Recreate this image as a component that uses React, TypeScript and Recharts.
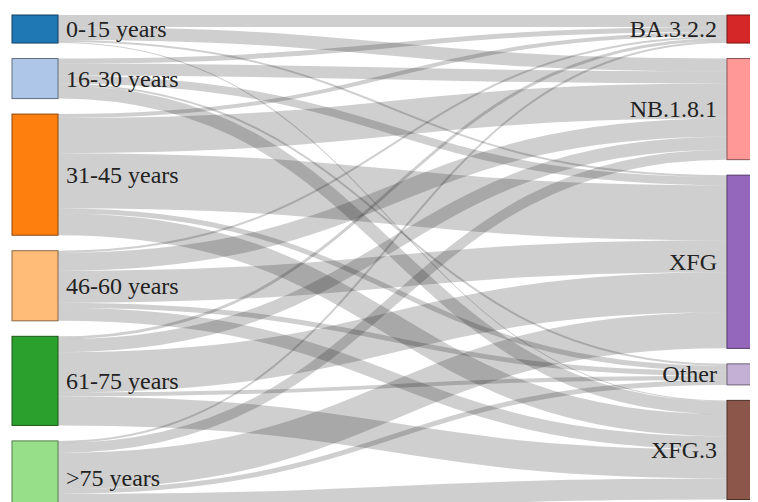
import React from "react";
import { Sankey } from "recharts";

// age groups (left column) and lineages (right column)
const ageGroups = ["0-15 years", "16-30 years", "31-45 years", "46-60 years", "61-75 years", ">75 years"];
const lineages = ["BA.3.2.2", "NB.1.8.1", "XFG", "Other", "XFG.3"];

// sequences per age group, in lineage order (BA.3.2.2, NB.1.8.1, XFG, Other, XFG.3)
const age0to15 = [12, 13, 2, 0, 1];
const age16to30 = [5, 12, 8, 2, 13];
const age31to45 = [4, 35, 55, 5, 22];
const age46to60 = [2, 18, 32, 5, 13];
const age61to75 = [3, 13, 40, 4, 29];
const age75plus = [2, 10, 36, 5, 21];

const flows = [age0to15, age16to30, age31to45, age46to60, age61to75, age75plus];

const ageColors = ["#1f77b4", "#aec7e8", "#ff7f0e", "#ffbb78", "#2ca02c", "#98df8a"];
const lineageColors = ["#d62728", "#ff9896", "#9467bd", "#c5b0d5", "#8c564b"];

const nodeColors = [...ageColors, ...lineageColors];

const data = {
  nodes: [...ageGroups, ...lineages].map((name) => ({ name })),
  links: flows.flatMap((row, s) =>
    row
      .map((value, t) => ({ source: s, target: ageGroups.length + t, value }))
      .filter((l) => l.value > 0)
  ),
};

function darker(hex: string, k = 0.55) {
  const n = parseInt(hex.slice(1), 16);
  const r = Math.round(((n >> 16) & 255) * k);
  const g = Math.round(((n >> 8) & 255) * k);
  const b = Math.round((n & 255) * k);
  return `rgb(${r},${g},${b})`;
}

function SankeyNode(props: any) {
  const { x, y, width, height, index, payload } = props;
  const color = nodeColors[index];
  const isLeft = index < ageGroups.length;
  return (
    <g>
      <rect x={x} y={y} width={width} height={height} fill={color} stroke={darker(color)} strokeWidth={1} />
      <text
        x={isLeft ? x + width + 8 : x - 10}
        y={y + height / 2}
        textAnchor={isLeft ? "start" : "end"}
        dominantBaseline="central"
        style={{ fontFamily: "'Liberation Serif', 'DejaVu Serif', serif", fontSize: 24, fill: "#222" }}
      >
        {payload.name}
      </text>
    </g>
  );
}

function SankeyLink(props: any) {
  const { sourceX, targetX, sourceY, targetY, sourceControlX, targetControlX, linkWidth } = props;
  return (
    <path
      d={`M${sourceX},${sourceY}C${sourceControlX},${sourceY} ${targetControlX},${targetY} ${targetX},${targetY}`}
      fill="none"
      stroke="#000"
      strokeOpacity={0.19}
      strokeWidth={Math.max(1, linkWidth)}
    />
  );
}

export default function App() {
  return (
    <div style={{ width: 750, height: 494, overflow: "hidden" }}>
      <Sankey
        width={765}
        height={510}
        data={data}
        nodeWidth={46}
        nodePadding={15.5}
        iterations={0}
        margin={{ top: 7, right: 0, bottom: 3, left: 4 }}
        node={<SankeyNode />}
        link={<SankeyLink />}
      />
    </div>
  );
}
